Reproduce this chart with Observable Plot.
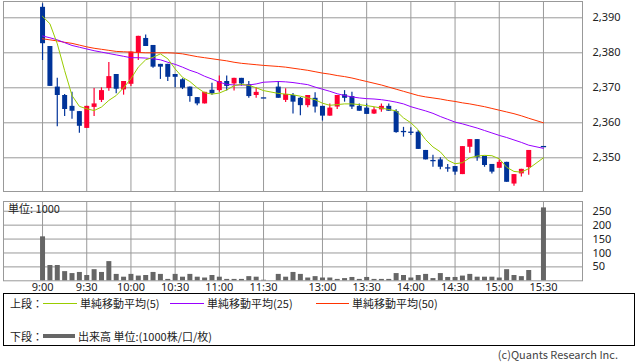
<!DOCTYPE html>
<html><head><meta charset="utf-8">
<script src="https://cdn.jsdelivr.net/npm/d3@7"></script>
<script src="https://cdn.jsdelivr.net/npm/@observablehq/plot@0.6"></script>
<style>
body{margin:0;background:#fff;}
#wrap{position:relative;width:638px;height:362px;overflow:hidden;font-family:"Noto Sans CJK JP","Noto Sans",sans-serif;color:#222;}
#wrap svg{position:absolute;left:0;}
.abs{position:absolute;white-space:nowrap;font-size:11px;line-height:14px;}
.ln{position:absolute;height:1px;}
</style></head><body><div id="wrap"></div>
<script>
// bar index (5-minute bars; 31 and 67 have no trades)
const barIndex = [0,1,2,3,4,5,6,7,8,9,10,11,12,13,14,15,16,17,18,19,20,21,22,23,24,25,26,27,28,29,30,31,32,33,34,35,36,37,38,39,40,41,42,43,44,45,46,47,48,49,50,51,52,53,54,55,56,57,58,59,60,61,62,63,64,65,66,67,68];
const openP  = [2393,2381.8,2370.2,2367.8,2364.7,2363.2,2358.4,2364.4,2366.4,2369.8,2373.8,2369.4,2371.0,2379.9,2384.1,2382.1,2376.7,2376.7,2373.8,2372.3,2370.2,2367.2,2365.4,2369.3,2369.2,2371.8,2371.1,2372.7,2370.9,2367.8,2367.1,null,2370.2,2366.4,2367.8,2367.0,2364.9,2367.0,2364.7,2361.9,2364.5,2368.0,2367.5,2364.7,2364.2,2362.5,2363.7,2364.7,2363.2,2357.5,2357.3,2357.3,2352.1,2349.2,2349.4,2347.1,2347.5,2345.2,2353.0,2355.2,2350.4,2348.1,2347.0,2348.7,2342.5,2345.4,2347.2,null,2353.2];
const highP  = [2394,2381.8,2372.7,2368.1,2368.7,2363.2,2364.7,2369.8,2370.0,2377.2,2373.8,2371.8,2380.2,2384.7,2385.1,2382.1,2376.7,2376.7,2373.8,2372.6,2370.2,2367.2,2368.7,2371.3,2373.4,2373.4,2372.7,2372.7,2371.8,2370.0,2367.1,null,2371.8,2369.7,2368.4,2367.2,2367.8,2368.6,2364.7,2365.4,2367.8,2369.2,2368.7,2365.4,2365.4,2364.4,2365.4,2365.4,2363.7,2358.7,2358.6,2357.8,2352.1,2350.7,2350.0,2348.1,2347.5,2353.2,2355.2,2355.2,2350.4,2348.1,2349.4,2348.7,2345.2,2346.7,2352.1,null,2353.2];
const lowP   = [2377.8,2370.4,2358.9,2361.8,2361.0,2357.0,2358.4,2361.8,2365.8,2369.0,2368.3,2367.9,2370.4,2377.8,2381.8,2375.6,2372.4,2371.8,2370.0,2369.5,2365.9,2364.9,2365.4,2367.9,2368.7,2369.1,2369.1,2370.5,2367.0,2367.0,2367.1,null,2367.0,2365.8,2362.5,2362.0,2364.3,2362.8,2360.5,2361.9,2363.8,2365.9,2363.8,2363.3,2362.4,2362.4,2363.0,2363.3,2357.0,2355.9,2356.4,2352.4,2349.4,2347.3,2346.6,2345.9,2345.0,2345.2,2351.3,2349.0,2347.3,2345.4,2347.0,2343.0,2341.9,2344.5,2345.0,null,2353.2];
const closeP = [2382.6,2370.4,2367.8,2363.8,2363.3,2359.0,2364.7,2365.4,2369.2,2373.2,2369.6,2371.8,2380.2,2384.7,2381.8,2375.9,2375.9,2373.0,2373.0,2369.9,2367.5,2365.4,2368.7,2368.3,2371.8,2370.4,2372.7,2371.1,2367.5,2368.7,2367.1,null,2367.0,2368.1,2365.9,2364.9,2367.8,2364.5,2361.9,2364.2,2367.8,2367.0,2364.5,2363.3,2362.4,2363.7,2364.7,2363.3,2357.2,2357.5,2357.3,2352.4,2349.4,2349.2,2347.3,2347.1,2345.9,2353.2,2355.2,2350.0,2347.8,2345.9,2348.7,2343.0,2345.2,2346.7,2352.1,null,2353.2];
const volume = [158,55,55,33,26,30,19,40,30,69,23,13,23,17,19,30,23,5,23,13,23,13,10,19,13,5,5,5,15,13,2,null,23,13,30,23,10,15,10,10,5,8,12,5,12,5,5,5,26,19,10,19,23,8,26,12,12,17,23,13,13,13,10,40,19,15,37,null,262];
const ma5  = [2390.4,2388.3,2382.6,2374.9,2367.8,2364.7,2364.0,2363.5,2364.5,2366.4,2367.8,2370.0,2372.6,2375.9,2378.0,2378.7,2379.7,2378.3,2375.4,2373.0,2371.8,2370.0,2368.6,2368.2,2368.5,2369.4,2370.6,2371.0,2370.7,2370.0,2369.2,null,2368.4,2368.2,2368.0,2367.6,2367.1,2366.6,2365.6,2365.0,2365.2,2365.4,2365.4,2365.2,2364.9,2364.6,2364.2,2363.8,2363.4,2361.4,2360.0,2358.0,2355.2,2353.1,2351.7,2349.3,2348.3,2348.6,2350.0,2350.5,2350.7,2350.6,2349.7,2347.3,2346.1,2345.9,2346.9,null,2350.0];
const ma25 = [2384.8,2384.3,2383.7,2382.9,2382.1,2381.6,2381.1,2380.6,2380.2,2379.8,2379.4,2379.0,2378.6,2378.6,2378.5,2378.3,2378.0,2377.3,2376.7,2375.9,2375.0,2374.3,2373.3,2372.5,2371.6,2371.0,2370.8,2370.8,2370.8,2371.1,2371.6,null,2371.8,2371.7,2371.5,2371.2,2370.9,2370.2,2369.6,2369.0,2368.3,2367.8,2367.4,2367.1,2366.9,2366.8,2366.6,2366.3,2365.9,2365.4,2364.6,2364.0,2363.4,2362.7,2361.8,2361.0,2360.2,2359.7,2359.1,2358.5,2357.8,2357.1,2356.4,2355.8,2355.1,2354.4,2353.6,null,2352.7];
const ma50 = [2384.0,2383.7,2383.4,2383.0,2382.7,2382.2,2381.7,2381.3,2381.0,2380.7,2380.4,2380.3,2380.2,2380.1,2380.0,2380.0,2380.0,2380.0,2379.9,2379.7,2379.3,2378.9,2378.6,2378.3,2378.0,2377.7,2377.3,2377.0,2376.8,2376.6,2376.4,null,2376.1,2375.9,2375.6,2375.3,2375.0,2374.6,2374.2,2373.9,2373.5,2373.2,2372.8,2372.3,2371.8,2371.3,2370.8,2370.2,2369.6,2369.0,2368.4,2367.8,2367.4,2367.1,2366.8,2366.4,2366.1,2365.7,2365.4,2365.0,2364.6,2364.1,2363.6,2363.1,2362.6,2362.0,2361.3,null,2360.0];
const timeTickIndex = [0,6,12,18,24,30,38,44,50,56,62,68];
const timeTickLabel = ["9:00","9:30","10:00","10:30","11:00","11:30","13:00","13:30","14:00","14:30","15:00","15:30"];
const priceTicks = [2350,2360,2370,2380,2390];
const volumeTicks = [50,100,150,200,250];

const RED = "#ff0033", BLUE = "#003399", GRID = "#999";
const candles = barIndex.map((i,k)=>({i,open:openP[k],high:highP[k],low:lowP[k],close:closeP[k]})).filter(d=>d.open!=null);
const dojis = candles.filter(d=>d.open===d.close);
const col = d => d.close > d.open ? RED : BLUE;
const maRows = arr => barIndex.map((i,k)=>({i,v:arr[k]})).filter(d=>d.v!=null);
const volRows = barIndex.map((i,k)=>({i,v:volume[k]})).filter(d=>d.v!=null);
const xDom = [-5.3, 73.3];

const wrap = document.getElementById("wrap");

const topChart = Plot.plot({
  width:638, height:192, marginTop:1, marginBottom:1, marginLeft:3, marginRight:56,
  style:{fontFamily:"'Noto Sans',sans-serif", fontSize:"11px", color:"#222", background:"transparent"},
  x:{domain:xDom, axis:null},
  y:{domain:[2340.37,2394.66], axis:null},
  marks:[
    Plot.gridY(priceTicks,{stroke:GRID, strokeOpacity:1}),
    Plot.gridX(timeTickIndex,{stroke:GRID, strokeOpacity:1}),
    Plot.frame({stroke:GRID}),
    Plot.axisY(priceTicks,{anchor:"right", label:null, tickSize:0, tickPadding:10, tickFormat:d3.format(","), fontSize:11}),
    Plot.ruleX(candles,{x:"i", y1:"low", y2:"high", stroke:col, strokeWidth:1.2}),
    Plot.ruleX(candles,{x:"i", y1:"open", y2:"close", stroke:col, strokeWidth:5}),
    Plot.link(dojis,{x1:d=>d.i-0.36, x2:d=>d.i+0.36, y1:"close", y2:"close", stroke:BLUE, strokeWidth:1.3}),
    Plot.line(maRows(ma50),{x:"i", y:"v", stroke:"#ff3300", strokeWidth:1}),
    Plot.line(maRows(ma25),{x:"i", y:"v", stroke:"#9900ff", strokeWidth:1}),
    Plot.line(maRows(ma5),{x:"i", y:"v", stroke:"#99cc00", strokeWidth:1})
  ]
});
topChart.style.top = "0px";
wrap.appendChild(topChart);

const volChart = Plot.plot({
  width:638, height:100, marginTop:6, marginBottom:14.7, marginLeft:3, marginRight:56,
  style:{fontFamily:"'Noto Sans',sans-serif", fontSize:"11px", color:"#222", background:"transparent"},
  x:{domain:xDom, axis:null},
  y:{domain:[0,285], axis:null},
  marks:[
    Plot.gridY(volumeTicks,{stroke:GRID, strokeOpacity:1}),
    Plot.gridX(timeTickIndex,{stroke:GRID, strokeOpacity:1}),
    Plot.frame({stroke:GRID}),
    Plot.axisY(volumeTicks,{anchor:"right", label:null, tickSize:0, tickPadding:10, fontSize:11}),
    Plot.axisX(timeTickIndex,{anchor:"bottom", label:null, tickSize:0, tickPadding:2, fontSize:11, tickFormat:(d)=>timeTickLabel[timeTickIndex.indexOf(d)]}),
    Plot.ruleX(volRows,{x:"i", y1:0, y2:"v", stroke:"#666", strokeWidth:5})
  ]
});
volChart.style.top = "195px";
wrap.appendChild(volChart);

function add(html, css){ const d=document.createElement("div"); d.className="abs"; d.innerHTML=html; Object.assign(d.style, css); wrap.appendChild(d); return d; }
function line(css){ const d=document.createElement("div"); d.className="ln"; Object.assign(d.style, css); wrap.appendChild(d); }

add("単位: 1000",{left:"8px", top:"201px"});

// legend box
const box=document.createElement("div");
Object.assign(box.style,{position:"absolute", left:"3px", top:"293px", width:"632px", height:"53px", border:"1px solid #000", boxSizing:"border-box"});
wrap.appendChild(box);
add("上段：",{left:"10px", top:"296px"});
line({left:"43px", top:"303px", width:"34px", background:"#99cc00"});
add("単純移動平均(5)",{left:"80px", top:"296px"});
line({left:"170px", top:"303px", width:"34px", background:"#9900ff"});
add("単純移動平均(25)",{left:"207px", top:"296px"});
line({left:"316px", top:"303px", width:"33px", background:"#ff3300"});
add("単純移動平均(50)",{left:"352px", top:"296px"});
add("下段：",{left:"10px", top:"329px"});
line({left:"43px", top:"334px", width:"32px", height:"4px", background:"#666"});
add("出来高 単位:(1000株/口/枚)",{left:"78px", top:"329px"});
add("(c)Quants Research Inc.",{right:"20px", top:"347px", color:"#444"});
</script></body></html>
